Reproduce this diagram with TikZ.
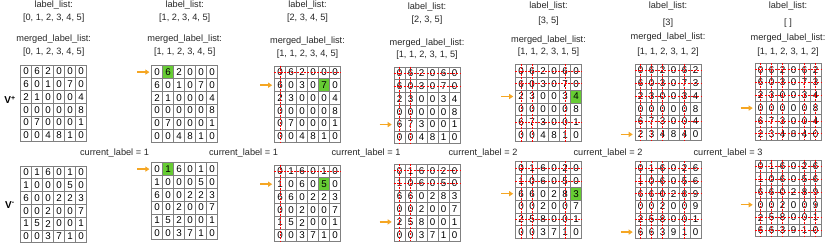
\documentclass[tikz,border=0pt]{standalone}
\usepackage{fontspec}
\setmainfont{Liberation Sans}
\usetikzlibrary{arrows.meta,backgrounds}

\definecolor{pickorange}{RGB}{245,166,35}
\definecolor{hlgreen}{RGB}{102,204,51}

\newcommand{\vplusA}{{0,6,2,0,0,0},{6,0,1,0,7,0},{2,1,0,0,0,4},{0,0,0,0,0,8},{0,7,0,0,0,1},{0,0,4,8,1,0}}
\newcommand{\vminusA}{{0,1,6,0,1,0},{1,0,0,0,5,0},{6,0,0,2,2,3},{0,0,2,0,0,7},{1,5,2,0,0,1},{0,0,3,7,1,0}}
\newcommand{\vplusB}{{0,6,2,0,0,0},{6,0,3,0,7,0},{2,3,0,0,0,4},{0,0,0,0,0,8},{0,7,0,0,0,1},{0,0,4,8,1,0}}
\newcommand{\vminusB}{{0,1,6,0,1,0},{1,0,6,0,5,0},{6,6,0,2,2,3},{0,0,2,0,0,7},{1,5,2,0,0,1},{0,0,3,7,1,0}}
\newcommand{\vplusC}{{0,6,2,0,6,0},{6,0,3,0,7,0},{2,3,0,0,3,4},{0,0,0,0,0,8},{6,7,3,0,0,1},{0,0,4,8,1,0}}
\newcommand{\vminusC}{{0,1,6,0,2,0},{1,0,6,0,5,0},{6,6,0,2,8,3},{0,0,2,0,0,7},{2,5,8,0,0,1},{0,0,3,7,1,0}}
\newcommand{\vplusD}{{0,6,2,0,6,2},{6,0,3,0,7,3},{2,3,0,0,3,4},{0,0,0,0,0,8},{6,7,3,0,0,4},{2,3,4,8,4,0}}
\newcommand{\vminusD}{{0,1,6,0,2,6},{1,0,6,0,5,6},{6,6,0,2,8,9},{0,0,2,0,0,9},{2,5,8,0,0,1},{6,6,3,9,1,0}}

\newcommand{\drawmat}[4]{%
  \foreach \row [count=\ri] in #4 {%
    \foreach \v [count=\ci] in \row
      \node[cell] (#1-\ri-\ci) at ({#2+(\ci-0.5)*11},{#3+(\ri-0.5)*12.8}) {\v};
  }%
}

\begin{document}
\begin{tikzpicture}[
    x=1pt, y=-1pt,
    cell/.style={rectangle, draw=black!50, line width=0.6pt, minimum width=11pt,
                 minimum height=12.8pt, inner sep=0pt, font=\fontsize{9.8}{11}\selectfont},
    lbl/.style={inner sep=0pt, text=black!85, font=\fontsize{9.2}{11}\selectfont},
    vlbl/.style={inner sep=0pt, font=\fontsize{10}{12}\selectfont\bfseries},
    cut/.style={red, line width=0.7pt, dash pattern=on 2pt off 1.3pt},
    pick/.style={-{Triangle[length=4pt, width=5pt]}, pickorange, line width=1.4pt, shorten >=2pt}
]
\useasboundingbox (0,0) rectangle (830,245);

\drawmat{p1}{20.7}{65}{\vplusA}
\drawmat{n1}{20.7}{166}{\vminusA}
\drawmat{p2}{151.7}{65.7}{\vplusA}
\drawmat{n2}{151.7}{162.7}{\vminusA}
\drawmat{p3}{274.5}{66}{\vplusB}
\drawmat{n3}{274.5}{165}{\vminusB}
\drawmat{p4}{394}{67}{\vplusC}
\drawmat{n4}{394}{164.3}{\vminusC}
\drawmat{p5}{515.5}{64.5}{\vplusC}
\drawmat{n5}{515.5}{161.7}{\vminusC}
\drawmat{p6}{635}{64}{\vplusD}
\drawmat{n6}{635}{161.7}{\vminusD}
\drawmat{p7}{755}{63.3}{\vplusD}
\drawmat{n7}{755}{160}{\vminusD}

\begin{scope}[on background layer]
\foreach \m/\r/\c in {p2/1/2, n2/1/2, p3/2/5, n3/2/5, p5/3/6, n5/3/6}
  \fill[hlgreen] (\m-\r-\c.south west) rectangle (\m-\r-\c.north east);
\end{scope}

\foreach \m/\ks in {p3/{1}, n3/{1}, p4/{1,2}, n4/{1,2}, p5/{1,2,5}, n5/{1,2,5},
                    p6/{1,2,3,5}, n6/{1,2,3,5}, p7/{1,2,3,5,6}, n7/{1,2,3,5,6}}
  \foreach \k in \ks {
    \draw[cut] (\m-\k-1.west) -- (\m-\k-6.east);
    \draw[cut] (\m-1-\k.north) -- (\m-6-\k.south);
  }

\foreach \m/\r in {p2/1, n2/1, p3/2, n3/2, p4/5, n4/5, p5/3, n5/3, p6/6, n6/6, p7/4, n7/4} {
  \coordinate (a-\m) at ([xshift=-14pt]\m-\r-1.west);
  \draw[pick] (a-\m) -- (\m-\r-1.west);
}

\foreach \x/\ya/\yb/\yc/\yd/\la/\lb [count=\i] in {
    53.7/5/18.3/39.3/51.7/{[0, 1, 2, 3, 4, 5]}/{[0, 1, 2, 3, 4, 5]},
    184.7/5/18.3/39.5/52/{[1, 2, 3, 4, 5]}/{[1, 1, 2, 3, 4, 5]},
    307.5/5/18.3/41.5/54/{[2, 3, 4, 5]}/{[1, 1, 2, 3, 4, 5]},
    427/7.5/20.5/43/55/{[2, 3, 5]}/{[1, 1, 2, 3, 1, 5]},
    548.5/6/20.7/40/52/{[3, 5]}/{[1, 1, 2, 3, 1, 5]},
    668/6/22.7/37.3/51.7/{[3]}/{[1, 1, 2, 3, 1, 2]},
    788/6/22.7/38.3/51.7/{[ ]}/{[1, 1, 2, 3, 1, 2]}} {
  \node[lbl] (ll\i) at (\x,\ya) {label\_list:};
  \node[lbl] (lv\i) at (\x,\yb) {\la};
  \node[lbl] (ml\i) at (\x,\yc) {merged\_label\_list:};
  \node[lbl] (mv\i) at (\x,\yd) {\lb};
}

\foreach \i/\x/\v in {2/114.5/1, 3/243.5/1, 4/366/1, 5/483/2, 6/608/2, 7/728/3}
  \node[lbl] (c\i) at (\x,153) {current\_label = \v};

\node[vlbl] (vp) at (10,100) {V\textsuperscript{+}};
\node[vlbl] (vn) at (10,205) {V\textsuperscript{-}};
\end{tikzpicture}
\end{document}
